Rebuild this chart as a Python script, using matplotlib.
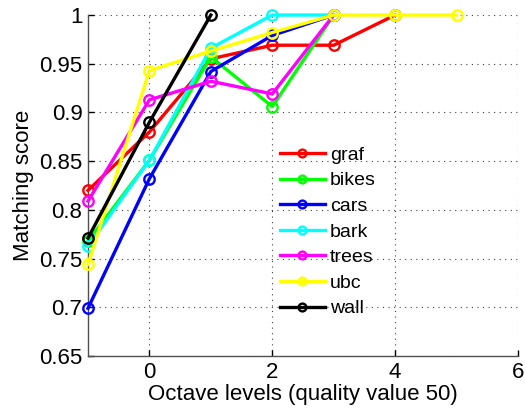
import matplotlib
matplotlib.use("Agg")
import matplotlib.pyplot as plt

plt.rcParams['font.family'] = ['Liberation Sans', 'DejaVu Sans']

# Matching score per octave level for each image set
x_graf = [-1, 0, 1, 2, 3, 4]
graf = [0.820, 0.880, 0.955, 0.969, 0.969, 1.0]
x_bikes = [-1, 0, 1, 2, 3]
bikes = [0.768, 0.851, 0.957, 0.906, 1.0]
x_cars = [-1, 0, 1, 2, 3]
cars = [0.699, 0.832, 0.942, 0.979, 1.0]
x_bark = [-1, 0, 1, 2, 3]
bark = [0.763, 0.851, 0.966, 1.0, 1.0]
x_trees = [-1, 0, 1, 2, 3]
trees = [0.809, 0.913, 0.932, 0.919, 1.0]
x_ubc = [-1, 0, 1, 2, 3, 4, 5]
ubc = [0.744, 0.943, 0.963, 0.982, 1.0, 1.0, 1.0]
x_wall = [-1, 0, 1]
wall = [0.771, 0.890, 1.0]

series = [
    ("graf", x_graf, graf, "#ff0000"),
    ("bikes", x_bikes, bikes, "#00ff00"),
    ("cars", x_cars, cars, "#0000ff"),
    ("bark", x_bark, bark, "#00ffff"),
    ("trees", x_trees, trees, "#ff00ff"),
    ("ubc", x_ubc, ubc, "#ffff00"),
    ("wall", x_wall, wall, "#000000"),
]

xticks = [0, 2, 4, 6]
yticks = [0.65, 0.7, 0.75, 0.8, 0.85, 0.9, 0.95, 1.0]
ytick_labels = ["0.65", "0.7", "0.75", "0.8", "0.85", "0.9", "0.95", "1"]

fig = plt.figure(figsize=(5.25, 4.09), dpi=100)
ax = fig.add_axes([88 / 525, 53 / 409, 430 / 525, 341 / 409])

for name, xs, ys, col in series:
    ax.plot(xs, ys, color=col, linewidth=2.4, marker='o', markersize=7.5,
            markerfacecolor='none', markeredgecolor=col, markeredgewidth=1.7,
            label=name, clip_on=False, zorder=3)

ax.set_xlim(-1, 6)
ax.set_ylim(0.65, 1.0)
ax.set_xticks(xticks)
ax.set_xticklabels([str(t) for t in xticks])
ax.set_yticks(yticks)
ax.set_yticklabels(ytick_labels)

ax.grid(True, color='#404040', linestyle=(0, (1, 4)), linewidth=0.8)
ax.set_axisbelow(True)

for side in ('top', 'right'):
    ax.spines[side].set_visible(False)
for side in ('left', 'bottom'):
    ax.spines[side].set_color('#505050')
    ax.spines[side].set_linewidth(1.0)

ax.tick_params(direction='in', length=4, width=1, colors='#000000',
               labelsize=16, pad=4)

ax.set_xlabel("Octave levels (quality value 50)", fontsize=16, labelpad=1)
ax.set_ylabel("Matching score", fontsize=16, labelpad=4)

leg = ax.legend(loc='upper left', bbox_to_anchor=(0.415, 0.655), frameon=False,
                fontsize=14, handlelength=2.3, handletextpad=0.25,
                labelspacing=0.41, markerscale=0.75, borderpad=0.2)

fig.savefig("out.png", dpi=100)
